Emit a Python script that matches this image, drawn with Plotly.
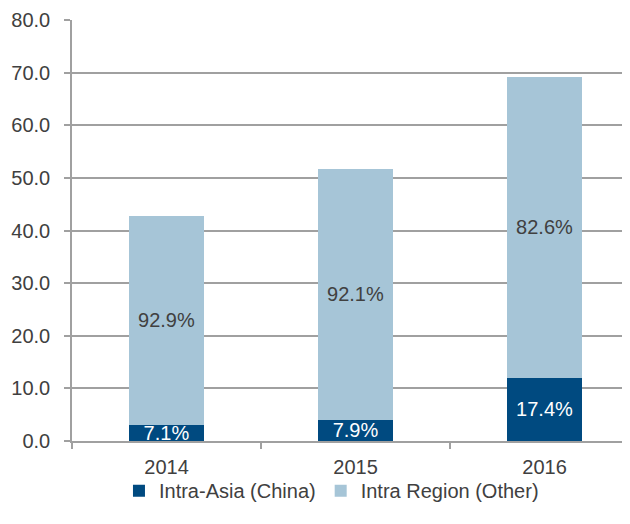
import plotly.graph_objects as go

years = ["2014", "2015", "2016"]
china = [3.04, 4.08, 12.04]
other = [39.76, 47.62, 57.16]
china_pct = ["7.1%", "7.9%", "17.4%"]
other_pct = ["92.9%", "92.1%", "82.6%"]

FONT = "Liberation Sans, Arial, sans-serif"
TXT = "#404040"
FS = 20

fig = go.Figure()
fig.add_trace(go.Bar(
    x=years, y=china, name="Intra-Asia (China)",
    marker_color="#004A80", marker_line_width=0,
    text=china_pct, textposition="inside", insidetextanchor="middle",
    textangle=0, textfont=dict(color="white", size=FS, family=FONT),
    hoverinfo="x+y",
))
fig.add_trace(go.Bar(
    x=years, y=other, name="Intra Region (Other)",
    marker_color="#A6C5D7", marker_line_width=0,
    text=other_pct, textposition="inside", insidetextanchor="middle",
    textangle=0, textfont=dict(color=TXT, size=FS, family=FONT),
    hoverinfo="x+y",
))

fig.update_layout(
    width=630, height=524,
    barmode="stack", bargap=0.6,
    margin=dict(l=64, r=8, t=12, b=91),
    paper_bgcolor="white", plot_bgcolor="white",
    font=dict(family=FONT, size=FS, color=TXT),
    uniformtext=dict(minsize=FS, mode="show"),
    showlegend=True,
    legend=dict(orientation="h", x=0.465, xanchor="center", y=-0.118, yanchor="middle",
                bgcolor="rgba(0,0,0,0)",
                font=dict(size=FS, color=TXT), traceorder="normal",
                itemwidth=30, tracegroupgap=0),
)
fig.update_xaxes(
    range=[-0.5, 2.452], showgrid=False, automargin=False,
    showline=True, linecolor="#A0A0A0", linewidth=1.5,
    ticks="outside", tickson="boundaries", ticklen=6, tickcolor="#A0A0A0", tickwidth=1.5,
    tickfont=dict(size=FS, color=TXT), ticklabelstandoff=7,
)
fig.update_yaxes(
    range=[0, 80], dtick=10, tickformat=".1f", automargin=False,
    showgrid=True, gridcolor="#A0A0A0", gridwidth=1.5,
    showline=True, linecolor="#A0A0A0", linewidth=1.5,
    ticks="outside", ticklen=6, tickcolor="#A0A0A0", tickwidth=1.5,
    tickfont=dict(size=FS, color=TXT), zeroline=False, ticklabelstandoff=10,
)

fig.write_html("out.html")
